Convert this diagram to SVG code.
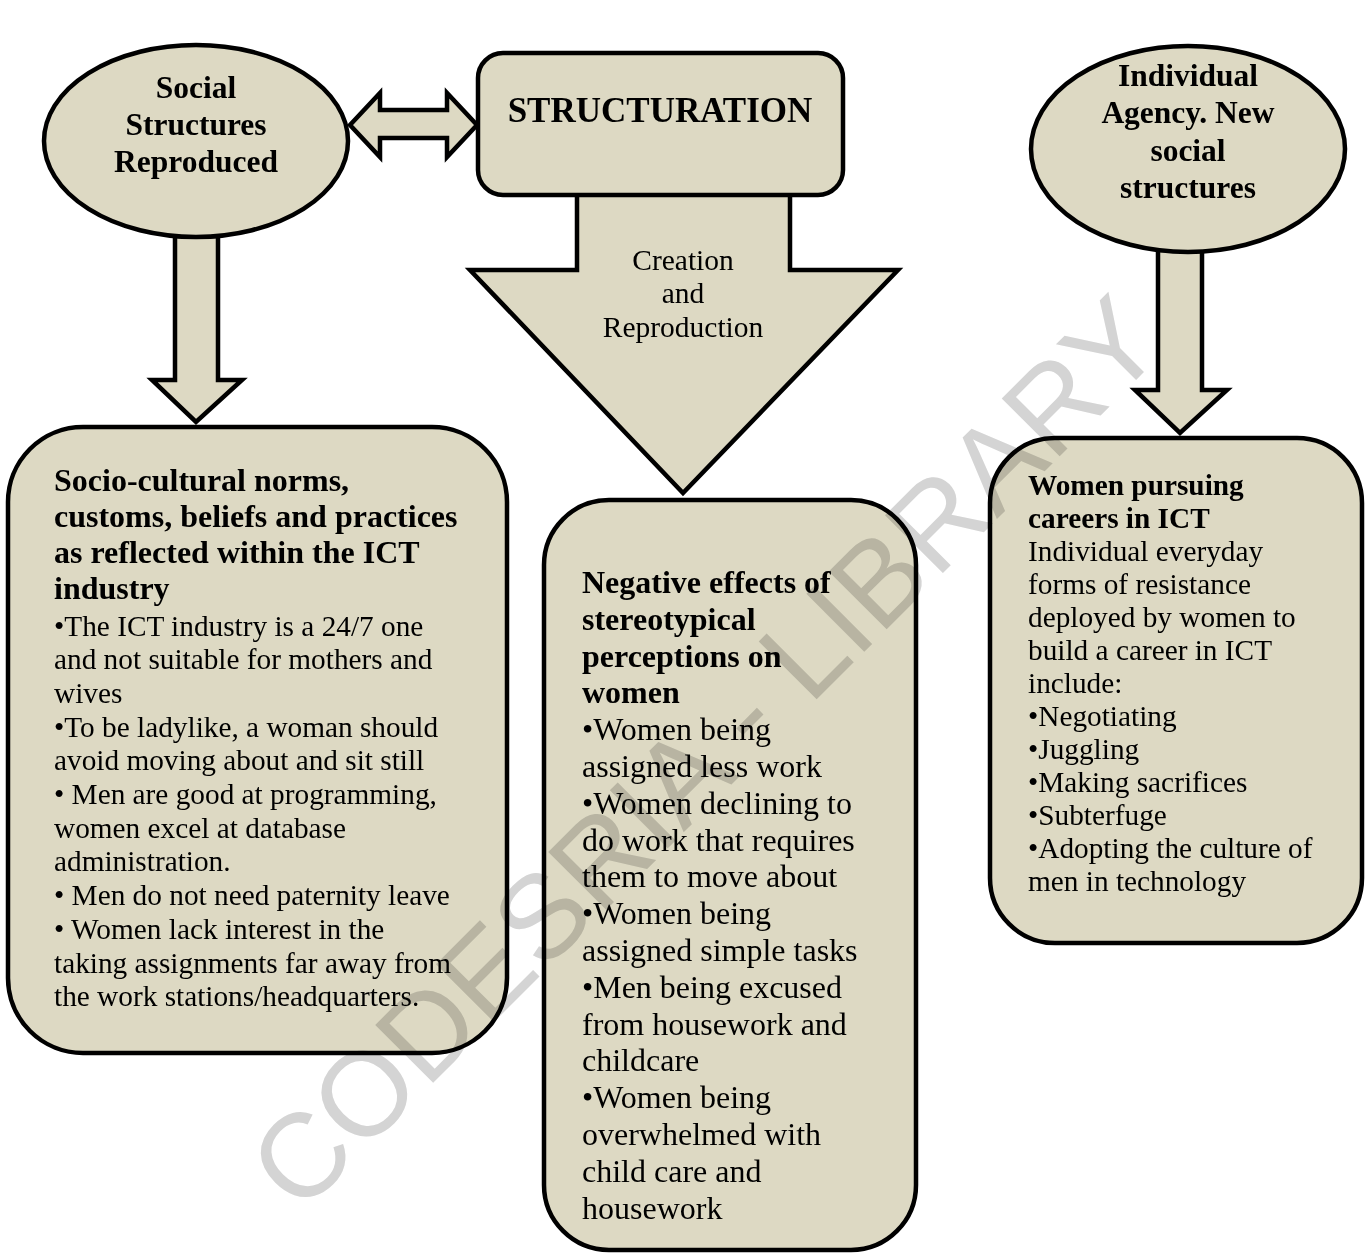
<svg xmlns="http://www.w3.org/2000/svg" width="1366" height="1257" viewBox="0 0 1366 1257">
<style>
.shape{fill:#DDD9C3;stroke:#000;stroke-width:4.5;stroke-linejoin:miter}
.t{font-family:"Liberation Serif","Times New Roman",serif;fill:#000}
.b{font-weight:bold}
.c{text-anchor:middle}
.wm{font-family:"Liberation Sans",Arial,sans-serif;font-size:119px;fill:#d4d4d4;mix-blend-mode:multiply}
</style>
<rect width="1366" height="1257" fill="#fff"/>
<g id="connectors">
  <polygon class="shape" points="175,236 218,236 218,380 242,380 196,422 152,380 175,380"/>
  <polygon class="shape" points="1158,250 1202,250 1202,390 1227,390 1180,433 1135,390 1158,390"/>
  <polygon class="shape" points="577,193 790,193 790,270 898,270 683,493 470,270 577,270"/>
  <polygon class="shape" points="350,125 380,93 380,110 447,110 447,93 477,125 447,157 447,138 380,138 380,157"/>
</g>
<g id="social-structures">
  <ellipse class="shape" cx="196" cy="141" rx="152" ry="96"/>
  <text class="t b c" font-size="31.5"><tspan x="196" y="98">Social</tspan><tspan x="196" y="135">Structures</tspan><tspan x="196" y="172">Reproduced</tspan></text>
</g>
<g id="structuration">
  <rect class="shape" x="478" y="53" width="365" height="142" rx="25"/>
  <text class="t b c" font-size="35" x="660" y="122">STRUCTURATION</text>
</g>
<g id="creation-label">
  <text class="t c" font-size="29.5"><tspan x="683" y="270">Creation</tspan><tspan x="683" y="303">and</tspan><tspan x="683" y="337">Reproduction</tspan></text>
</g>
<g id="individual-agency">
  <ellipse class="shape" cx="1188" cy="149" rx="157" ry="103"/>
  <text class="t b c" font-size="31.5"><tspan x="1188" y="86">Individual</tspan><tspan x="1188" y="123">Agency. New</tspan><tspan x="1188" y="161">social</tspan><tspan x="1188" y="198">structures</tspan></text>
</g>
<g id="socio-cultural">
  <rect class="shape" x="8" y="427" width="499" height="626" rx="75"/>
  <text class="t b" font-size="32"><tspan x="54" y="491">Socio-cultural norms,</tspan><tspan x="54" y="527">customs, beliefs and practices</tspan><tspan x="54" y="563">as reflected within the ICT</tspan><tspan x="54" y="599">industry</tspan></text>
  <text class="t" font-size="29.3"><tspan x="54" y="635.5">•The ICT industry is a 24/7 one</tspan><tspan x="54" y="669.2">and not suitable for mothers and</tspan><tspan x="54" y="702.9">wives</tspan><tspan x="54" y="736.6">•To be ladylike, a woman should</tspan><tspan x="54" y="770.3">avoid moving about and sit still</tspan><tspan x="54" y="804">• Men are good at programming,</tspan><tspan x="54" y="837.7">women excel at database</tspan><tspan x="54" y="871.4">administration.</tspan><tspan x="54" y="905.1">• Men do not need paternity leave</tspan><tspan x="54" y="938.8">• Women lack interest in the</tspan><tspan x="54" y="972.5">taking assignments far away from</tspan><tspan x="54" y="1006.2">the work stations/headquarters.</tspan></text>
</g>
<g id="negative-effects">
  <rect class="shape" x="544" y="500" width="372" height="750" rx="65"/>
  <text class="t b" font-size="32"><tspan x="582" y="593">Negative effects of</tspan><tspan x="582" y="629.8">stereotypical</tspan><tspan x="582" y="666.6">perceptions on</tspan><tspan x="582" y="703.4">women</tspan></text>
  <text class="t" font-size="32"><tspan x="582" y="740.2">•Women being</tspan><tspan x="582" y="777">assigned less work</tspan><tspan x="582" y="813.8">•Women declining to</tspan><tspan x="582" y="850.6">do work that requires</tspan><tspan x="582" y="887.4">them to move about</tspan><tspan x="582" y="924.2">•Women being</tspan><tspan x="582" y="961">assigned simple tasks</tspan><tspan x="582" y="997.8">•Men being excused</tspan><tspan x="582" y="1034.6">from housework and</tspan><tspan x="582" y="1071.4">childcare</tspan><tspan x="582" y="1108.2">•Women being</tspan><tspan x="582" y="1145">overwhelmed with</tspan><tspan x="582" y="1181.8">child care and</tspan><tspan x="582" y="1218.6">housework</tspan></text>
</g>
<g id="women-pursuing">
  <rect class="shape" x="990" y="438" width="372" height="505" rx="65"/>
  <text class="t b" font-size="29.3"><tspan x="1028" y="495">Women pursuing</tspan><tspan x="1028" y="528">careers in ICT</tspan></text>
  <text class="t" font-size="29.3"><tspan x="1028" y="561">Individual everyday</tspan><tspan x="1028" y="594">forms of resistance</tspan><tspan x="1028" y="627">deployed by women to</tspan><tspan x="1028" y="660">build a career in ICT</tspan><tspan x="1028" y="693">include:</tspan><tspan x="1028" y="726">•Negotiating</tspan><tspan x="1028" y="759">•Juggling</tspan><tspan x="1028" y="792">•Making sacrifices</tspan><tspan x="1028" y="825">•Subterfuge</tspan><tspan x="1028" y="858">•Adopting the culture of</tspan><tspan x="1028" y="891">men in technology</tspan></text>
</g>
<g id="watermark">
  <text class="wm" transform="translate(300,1216) rotate(-45)">CODESRIA - LIBRARY</text>
</g>
</svg>
